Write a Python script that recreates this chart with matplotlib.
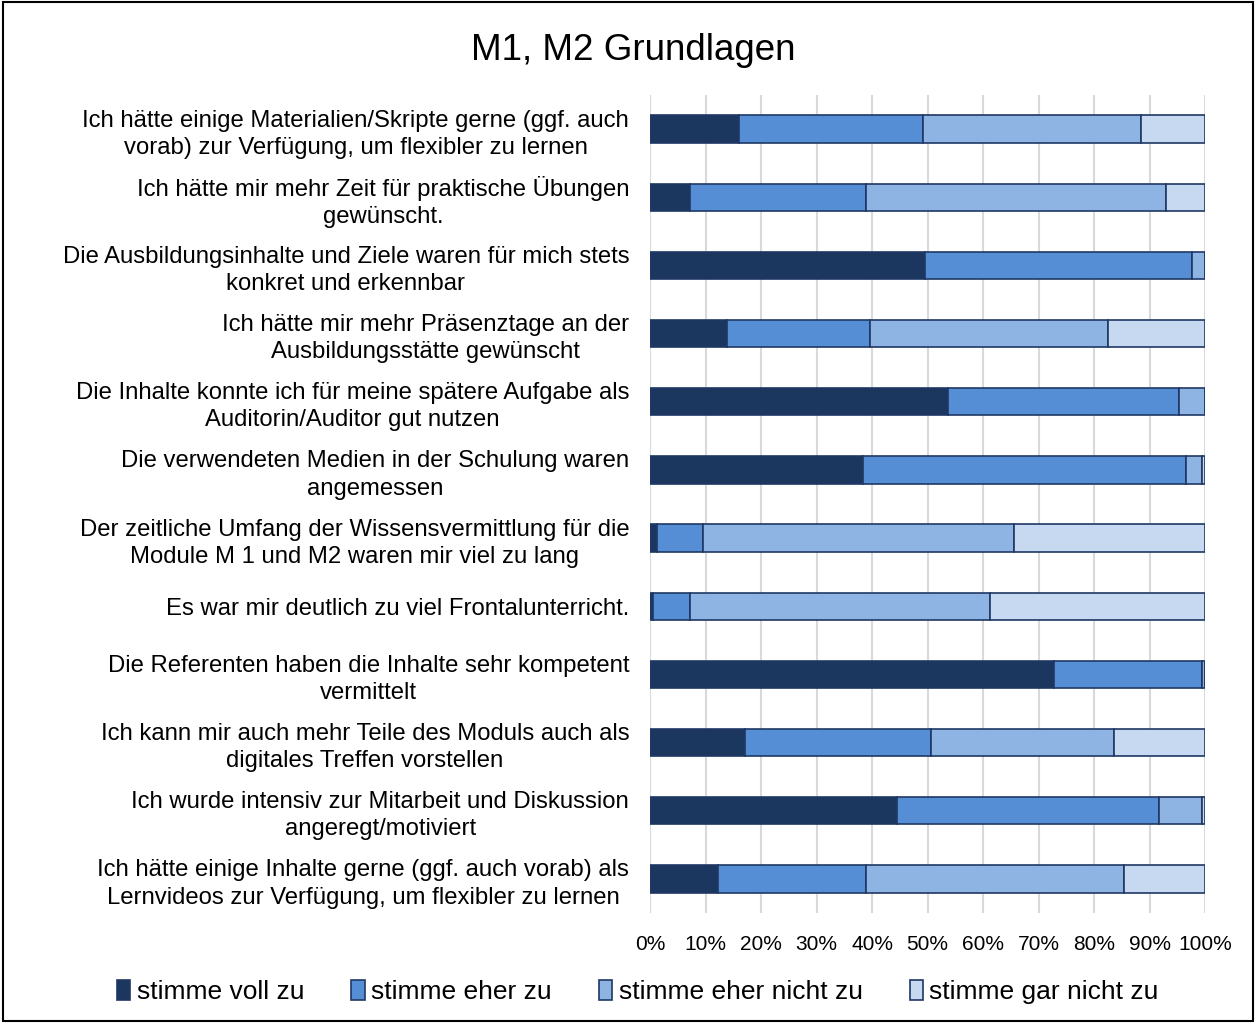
import matplotlib.pyplot as plt
import numpy as np

plt.rcParams['font.family'] = ['Liberation Sans', 'DejaVu Sans']

# survey statements (top to bottom)
fragen = [
    'Ich hätte einige Materialien/Skripte gerne (ggf. auch\nvorab) zur Verfügung, um flexibler zu lernen',
    'Ich hätte mir mehr Zeit für praktische Übungen\ngewünscht.',
    'Die Ausbildungsinhalte und Ziele waren für mich stets\nkonkret und erkennbar',
    'Ich hätte mir mehr Präsenztage an der\nAusbildungsstätte gewünscht',
    'Die Inhalte konnte ich für meine spätere Aufgabe als\nAuditorin/Auditor gut nutzen',
    'Die verwendeten Medien in der Schulung waren\nangemessen',
    'Der zeitliche Umfang der Wissensvermittlung für die\nModule M 1 und M2 waren mir viel zu lang',
    'Es war mir deutlich zu viel Frontalunterricht.',
    'Die Referenten haben die Inhalte sehr kompetent\nvermittelt',
    'Ich kann mir auch mehr Teile des Moduls auch als\ndigitales Treffen vorstellen',
    'Ich wurde intensiv zur Mitarbeit und Diskussion\nangeregt/motiviert',
    'Ich hätte einige Inhalte gerne (ggf. auch vorab) als\nLernvideos zur Verfügung, um flexibler zu lernen',
]

# answer shares in percent
voll_zu = [16.1, 7.2, 49.5, 13.9, 53.7, 38.3, 1.3, 0.5, 72.8, 17.1, 44.5, 12.3]
eher_zu = [33.0, 31.7, 48.2, 25.8, 41.6, 58.2, 8.3, 6.7, 26.7, 33.5, 47.2, 26.7]
eher_nicht_zu = [39.4, 54.0, 2.3, 42.9, 4.7, 3.0, 55.9, 54.0, 0.5, 33.0, 7.8, 46.4]
gar_nicht_zu = [11.5, 7.1, 0.0, 17.4, 0.0, 0.5, 34.5, 38.8, 0.0, 16.4, 0.5, 14.6]

serien = ['stimme voll zu', 'stimme eher zu', 'stimme eher nicht zu', 'stimme gar nicht zu']
farben = ['#1B375F', '#558ED5', '#8EB4E3', '#C6D9F1']

fig = plt.figure(figsize=(12.57, 10.23), dpi=100)
ax = fig.add_axes([650 / 1257, 1 - 913 / 1023, 555 / 1257, 818 / 1023])

y = np.arange(len(fragen))[::-1]
links = np.zeros(len(fragen))
for werte, name, farbe in zip([voll_zu, eher_zu, eher_nicht_zu, gar_nicht_zu], serien, farben):
    werte = np.array(werte)
    ax.barh(y, werte, left=links, height=0.4, color=farbe, edgecolor='#1F3864',
            linewidth=1.2, label=name, zorder=3)
    links += werte

ax.set_xlim(0, 100)
ax.set_ylim(-0.5, len(fragen) - 0.5)
ax.set_xticks(np.arange(0, 101, 10))
ax.set_xticklabels([f'{v}%' for v in range(0, 101, 10)], fontsize=15)
ax.set_yticks(y)
ax.set_yticklabels(fragen, fontsize=17.2, multialignment='center', linespacing=1.3)
ax.tick_params(axis='both', length=0)
ax.tick_params(axis='x', pad=16)
ax.tick_params(axis='y', pad=15)
ax.grid(axis='x', color='#D9D9D9', linewidth=1.5, zorder=0)
for s in ax.spines.values():
    s.set_visible(False)

fig.text(633 / 1257, 1 - 50 / 1023, 'M1, M2 Grundlagen', fontsize=26.5, ha='center', va='center')

fig.legend(loc='center', bbox_to_anchor=(638 / 1257, 1 - 992 / 1023), ncol=4, frameon=False,
           fontsize=19, handlelength=0.5, handleheight=0.8, handletextpad=0.25, columnspacing=1.78)

# frame around the whole chart
fig.patches.append(plt.Rectangle((0.002, 0.002), 0.995, 0.996, transform=fig.transFigure,
                                 fill=False, edgecolor='black', linewidth=1.5))

plt.savefig('out.png', dpi=100)
